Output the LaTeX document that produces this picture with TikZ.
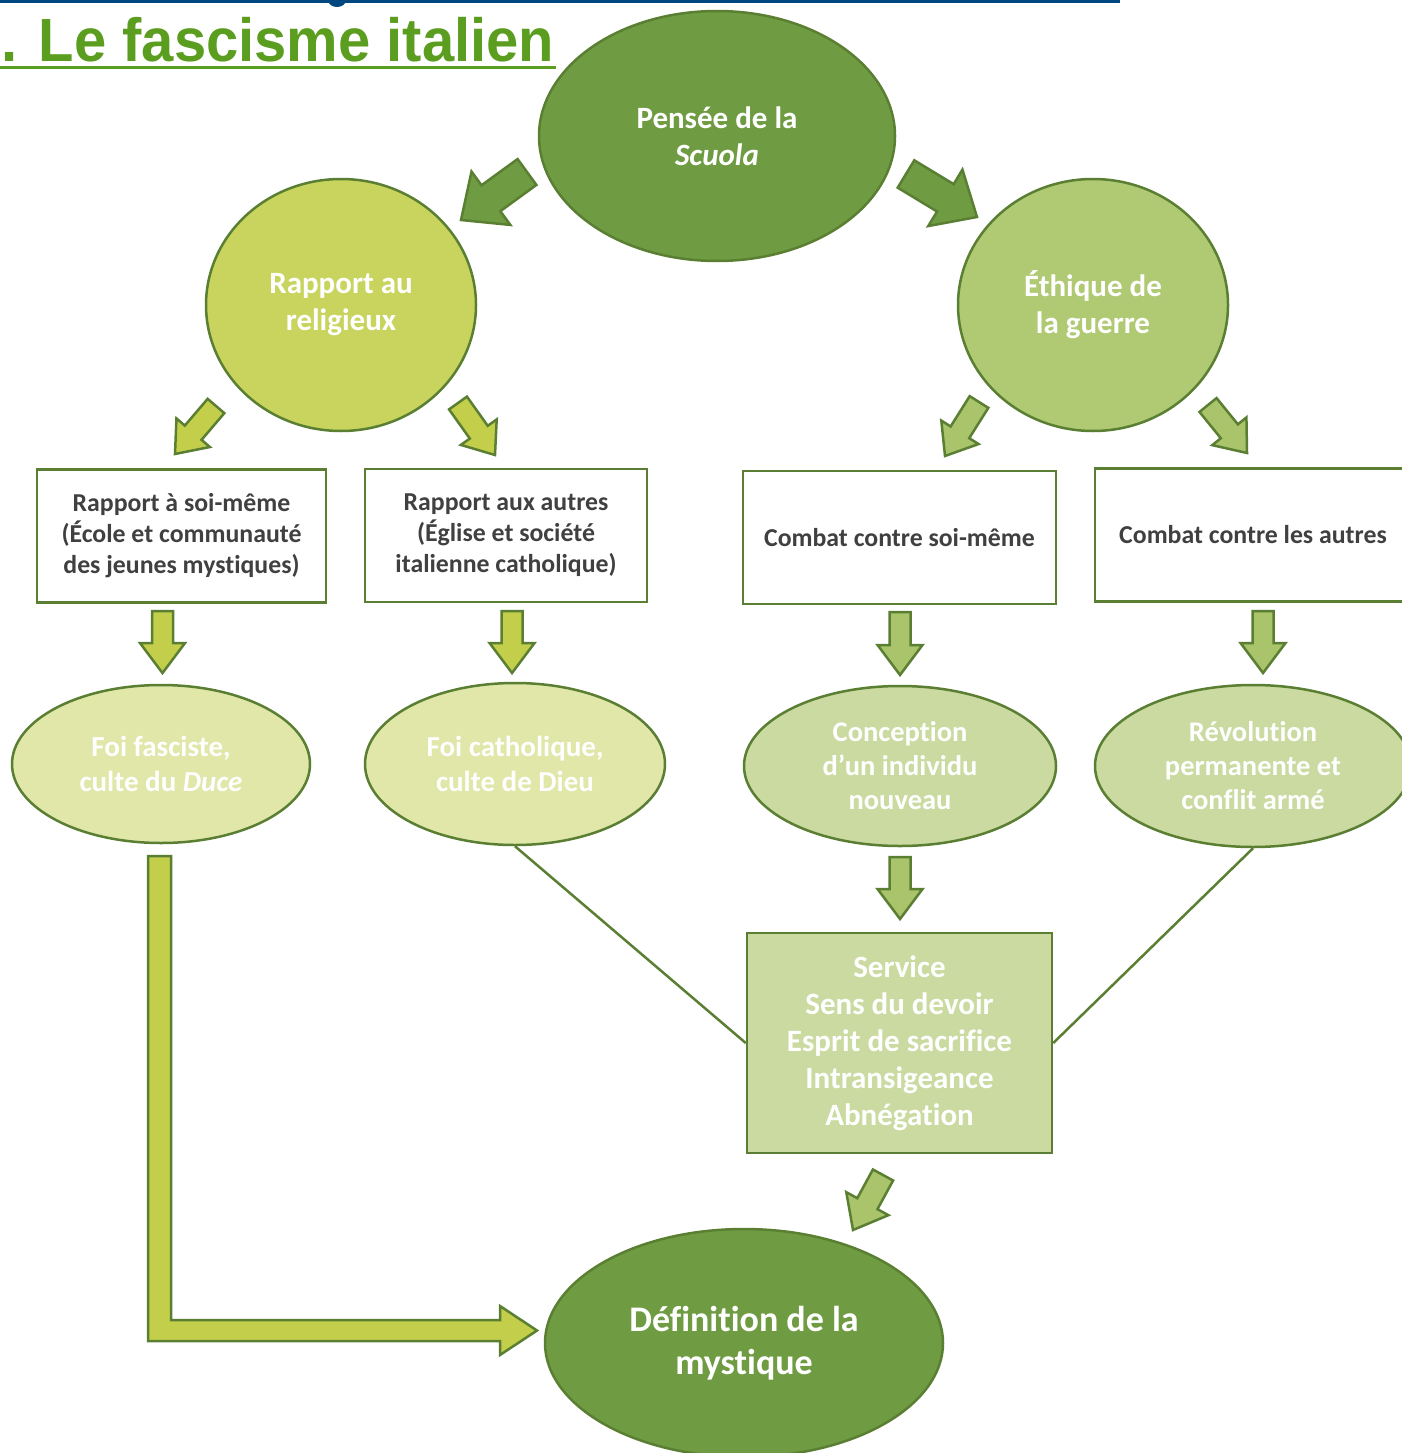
\documentclass[tikz,border=0pt]{standalone}
\usepackage{fontspec}
\setmainfont{Carlito}[Ligatures=NoCommon]
\newfontfamily\titlefont{Liberation Sans}[FakeStretch=0.95]
\usetikzlibrary{shapes.geometric,calc}

\definecolor{edgegreen}{HTML}{5A7F33}
\definecolor{darkgreen}{HTML}{6F9C42}
\definecolor{religfill}{HTML}{C8D45D}
\definecolor{ethfill}{HTML}{B0C973}
\definecolor{foifill}{HTML}{E0E7A9}
\definecolor{concfill}{HTML}{CADAA0}
\definecolor{leftarrow}{HTML}{C3CF4B}
\definecolor{rightarrow}{HTML}{A9C46B}
\definecolor{boxtext}{HTML}{404040}
\definecolor{titlegreen}{HTML}{5B9D1F}
\definecolor{topblue}{HTML}{00467F}

\tikzset{
  edge/.style={draw=edgegreen, line width=2.5pt},
  bigell/.style={ellipse, edge, fill=darkgreen, text=white, align=center, inner sep=0pt},
  midell/.style={ellipse, edge, text=white, align=center, inner sep=0pt,
    font=\bfseries\fontsize{31}{37}\selectfont, minimum width=270, minimum height=252},
  smallell/.style={ellipse, edge, text=white, align=center, inner sep=0pt,
    font=\bfseries\fontsize{29}{35}\selectfont},
  txtbox/.style={rectangle, edge, fill=white, text=boxtext, align=center, inner sep=0pt,
    font=\bfseries\fontsize{25.8}{31}\selectfont, minimum height=133},
}

% block arrow: tail, tip, fill, half shaft, half head, head length
\newcommand\blkarrow[6]{%
  \draw[edge, line join=miter, fill=#3] let \p1=($(#2)-(#1)$), \n1={atan2(\y1,\x1)} in
    ($(#1)+(\n1+90:#4)$) -- ($(#2)+(\n1:-#6)+(\n1+90:#4)$) -- ($(#2)+(\n1:-#6)+(\n1+90:#5)$) -- (#2)
    -- ($(#2)+(\n1:-#6)+(\n1-90:#5)$) -- ($(#2)+(\n1:-#6)+(\n1-90:#4)$) -- ($(#1)+(\n1-90:#4)$) -- cycle;
}

\begin{document}
\begin{tikzpicture}[x=1pt,y=-1pt]
\useasboundingbox (0,0) rectangle (1402,1453);
\clip (0,0) rectangle (1402,1453);

% haut de page
\fill[topblue] (0,0) rectangle (1120,3);
\fill[topblue] (337,0) ellipse [x radius=9, y radius=7];
\node[anchor=base west, inner sep=0pt, text=titlegreen,
  font=\titlefont\bfseries\fontsize{61}{64}\selectfont] (titre) at (1,62) {. Le fascisme italien};
\draw[titlegreen, line width=3pt] ($(titre.base west)+(-1,5.5)$) -- ($(titre.base east)+(2,5.5)$);

% ellipses et cercles
\node[bigell, minimum width=356, minimum height=250, font=\bfseries\fontsize{31}{37}\selectfont]
  (pensee) at (717,136) {Pensée de la\\\textit{Scuola}};
\node[midell, fill=religfill] (religieux) at (341,305) {Rapport au\\religieux};
\node[midell, fill=ethfill] (ethique) at (1093,305) {Éthique de\\la guerre};

% cadres
\node[txtbox, minimum width=289] (soi) at (181.5,536) {Rapport à soi-même\\(École et communauté\\des jeunes mystiques)};
\node[txtbox, minimum width=282] (autres) at (506,535.5) {Rapport aux autres\\(Église et société\\italienne catholique)};
\node[txtbox, minimum width=313] (combatsoi) at (899.5,537.5) {Combat contre soi-même};
\node[txtbox, minimum width=316] (combatautres) at (1253,535) {Combat contre les autres};

\node[smallell, fill=foifill, minimum width=298, minimum height=158] (foifasc) at (161,764) {Foi fasciste,\\culte du \textit{Duce}};
\node[smallell, fill=foifill, minimum width=300, minimum height=162] (foicath) at (515,764) {Foi catholique,\\culte de Dieu};
\node[smallell, fill=concfill, minimum width=312, minimum height=160, font=\bfseries\fontsize{28.5}{34}\selectfont]
  (conception) at (900,766) {Conception\\d’un individu\\nouveau};
\node[smallell, fill=concfill, minimum width=316, minimum height=162, font=\bfseries\fontsize{28.5}{34}\selectfont]
  (revolution) at (1253,766) {Révolution\\permanente et\\conflit armé};

\node[rectangle, edge, fill=concfill, text=white, align=center, inner sep=0pt,
  minimum width=305, minimum height=220, font=\bfseries\fontsize{31}{37}\selectfont]
  (service) at (899.5,1043) {Service\\Sens du devoir\\Esprit de sacrifice\\Intransigeance\\Abnégation};

\node[bigell, minimum width=398, minimum height=228, font=\bfseries\fontsize{36}{43}\selectfont]
  (definition) at (744,1343) {Définition de la\\mystique};

% liens
\draw[edge] (foicath.south) -- (service.west);
\draw[edge] (revolution.south) -- (service.east);

% fleches
\coordinate (p1) at (527,172);   \coordinate (p1t) at (461,220);
\coordinate (p2) at (906,174);   \coordinate (p2t) at (977,217);
\blkarrow{p1}{p1t}{darkgreen}{16pt}{33pt}{37pt}
\blkarrow{p2}{p2t}{darkgreen}{16pt}{33pt}{37pt}

\coordinate (r1) at (216,406);   \coordinate (r1t) at (175,454);
\coordinate (r2) at (458,403);   \coordinate (r2t) at (495,455);
\coordinate (e1) at (979,402);   \coordinate (e1t) at (945,456);
\coordinate (e2) at (1208,405);  \coordinate (e2t) at (1247,453);
\blkarrow{r1}{r1t}{leftarrow}{11pt}{22pt}{28pt}
\blkarrow{r2}{r2t}{leftarrow}{11pt}{22pt}{28pt}
\blkarrow{e1}{e1t}{rightarrow}{11pt}{22pt}{28pt}
\blkarrow{e2}{e2t}{rightarrow}{11pt}{22pt}{28pt}

\coordinate (d1) at (162.5,611); \coordinate (d1t) at (162.5,673);
\coordinate (d2) at (512,611);   \coordinate (d2t) at (512,673);
\coordinate (d3) at (900,612);   \coordinate (d3t) at (900,675);
\coordinate (d4) at (1263,611);  \coordinate (d4t) at (1263,673);
\coordinate (d5) at (900,857);   \coordinate (d5t) at (900,919);
\blkarrow{d1}{d1t}{leftarrow}{10.5pt}{22.5pt}{30pt}
\blkarrow{d2}{d2t}{leftarrow}{10.5pt}{22.5pt}{30pt}
\blkarrow{d3}{d3t}{rightarrow}{10.5pt}{22.5pt}{30pt}
\blkarrow{d4}{d4t}{rightarrow}{10.5pt}{22.5pt}{30pt}
\blkarrow{d5}{d5t}{rightarrow}{10.5pt}{22.5pt}{30pt}

\coordinate (s1) at (883,1175);  \coordinate (s1t) at (853,1230);
\blkarrow{s1}{s1t}{rightarrow}{11.5pt}{24pt}{30pt}

% grande fleche coudee
\coordinate (ltip) at (537,1330.5);
\draw[edge, line join=miter, fill=leftarrow] (148,856) -- (171,856) -- (171,1320) -- (500,1320)
  -- (500,1306) -- (ltip) -- (500,1355) -- (500,1341) -- (148,1341) -- cycle;
\end{tikzpicture}
\end{document}
